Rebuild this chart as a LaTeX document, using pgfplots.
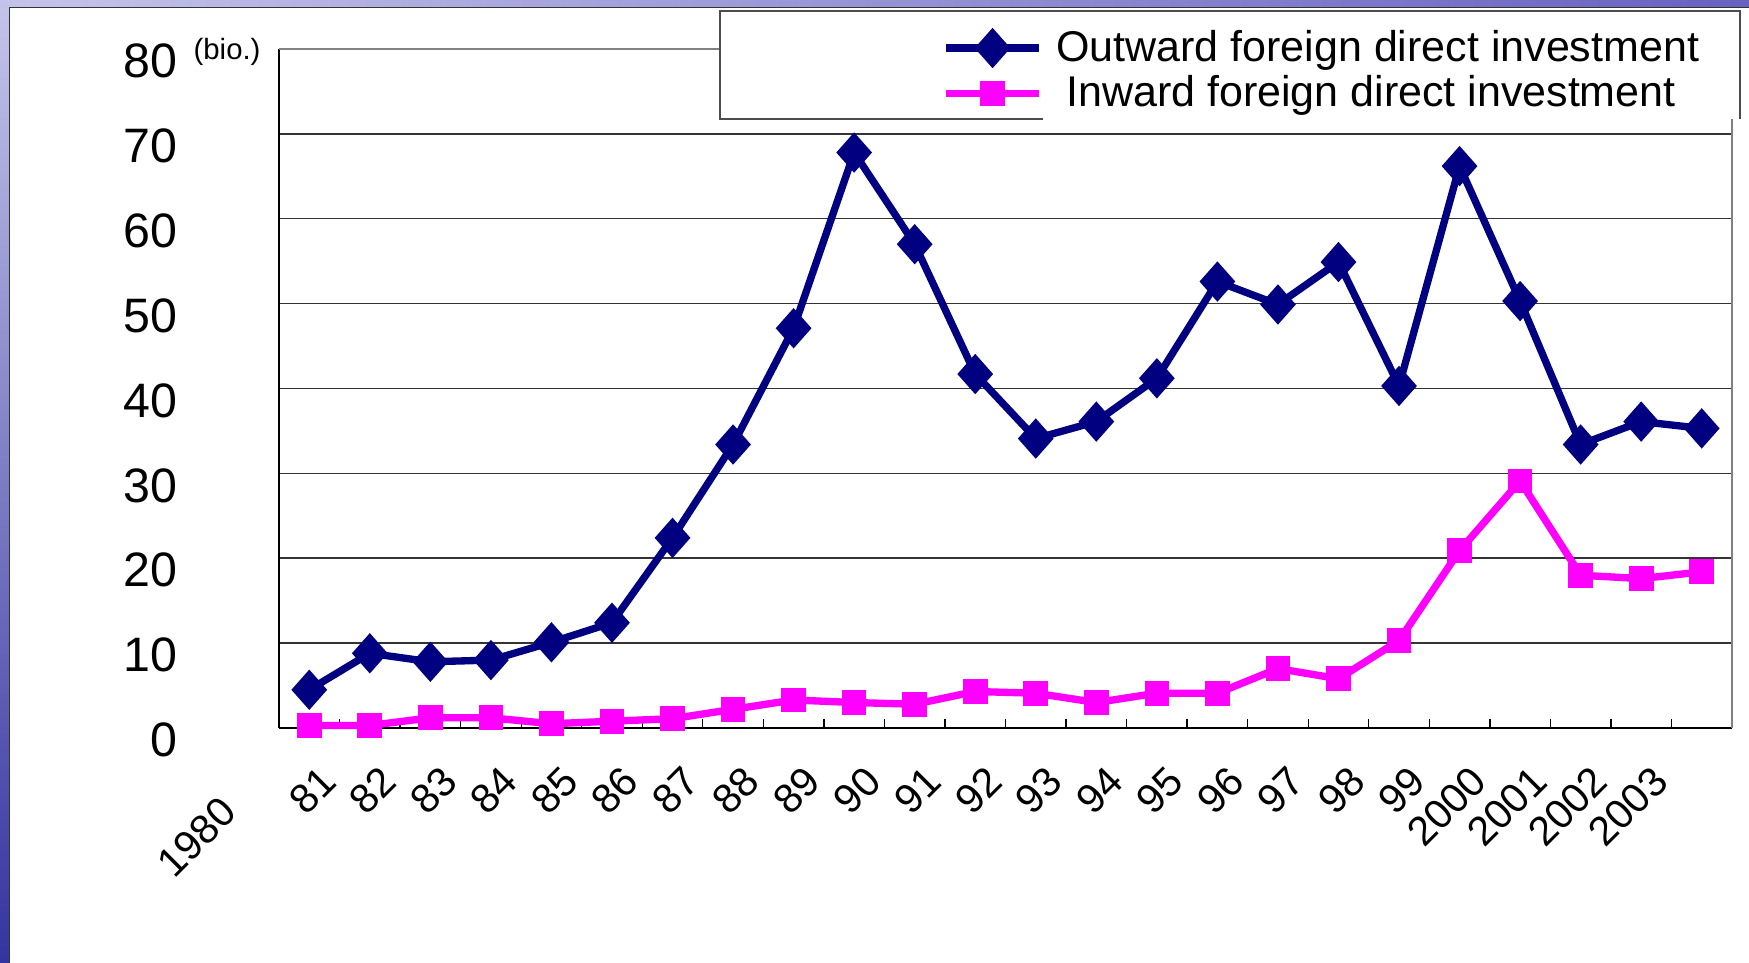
\documentclass[border=0pt]{standalone}
\usepackage{pgfplots}
\usepackage{pgfplotstable}
\pgfplotsset{compat=1.18}
\usepackage{fontspec}
\setmainfont{Liberation Sans}

\definecolor{outw}{HTML}{000080}
\definecolor{inw}{HTML}{FF00FF}
\definecolor{slidetopl}{RGB}{196,196,234}
\definecolor{slidetopr}{RGB}{104,98,192}
\definecolor{slidebot}{RGB}{52,52,160}

% year index (0 = 1980), outward FDI, inward FDI (bio.)
\pgfplotstableread{
x out  in
0  4.5  0.3
1  8.8  0.3
2  7.8  1.2
3  8.0  1.2
4  10.1 0.5
5  12.4 0.8
6  22.4 1.1
7  33.4 2.2
8  47.1 3.3
9  67.8 3.0
10 57.0 2.8
11 41.7 4.3
12 34.1 4.1
13 36.1 3.0
14 41.2 4.1
15 52.6 4.1
16 49.9 7.0
17 54.9 5.8
18 40.3 10.3
19 66.2 20.9
20 50.3 29.1
21 33.4 18.0
22 36.1 17.6
23 35.3 18.4
}\fdidata

\begin{document}
\begin{tikzpicture}
\path[use as bounding box] (0,0) rectangle (524.7pt,288.9pt);
% slide backdrop
\shade[left color=slidetopl, right color=slidetopr] (0,0) rectangle (524.7pt,288.9pt);
\shade[top color=slidetopl, bottom color=slidebot] (0,0) rectangle (2.7pt,288.9pt);
\fill[white] (2.7pt,0) rectangle (524.7pt,286.8pt);
\draw[black!80, line width=0.4pt] (2.8pt,0) -- (2.8pt,286.7pt) -- (524.7pt,286.7pt);

\node[anchor=west, inner sep=0pt, font=\fontsize{8.8}{10}\selectfont] at (57.9pt,273.3pt) {(bio.)};

\begin{axis}[
  at={(83.7pt,70.5pt)}, anchor=south west,
  width=435.9pt, height=203.7pt, scale only axis,
  xmin=-0.5, xmax=23.5, ymin=0, ymax=80,
  clip=false,
  axis x line*=bottom, axis y line*=left,
  axis line style={black, line width=0.6pt},
  ytick={0,10,...,80},
  ymajorgrids,
  major grid style={black!80, line width=0.45pt},
  xtick={0,...,23},
  xticklabels={\raisebox{3.8pt}{1980}\hspace*{14.7pt},81,82,83,84,85,86,87,88,89,90,91,92,93,94,95,96,97,98,99,2000,2001,2002,2003},
  minor xtick={-0.5,0.5,...,23.5},
  major tick length=0pt,
  minor tick length=2.7pt,
  tick align=inside,
  minor tick style={black, line width=0.4pt},
  yticklabel style={font=\fontsize{14.5}{16}\selectfont, inner sep=0pt, anchor=east,
    xshift=-30.3pt, yshift=-3.6pt, /pgf/number format/assume math mode=true},
  xticklabel style={font=\fontsize{12.3}{14}\selectfont, inner sep=0pt,
    xshift=-12.3pt, yshift=-13.8pt, rotate=45, anchor=east},
  legend style={at={(0.456,1.029)}, anchor=north west, draw=none, fill=none,
    inner sep=0pt, row sep=2.7pt, nodes={inner xsep=4pt, inner ysep=0pt},
    font=\fontsize{12.9}{14}\selectfont},
  legend cell align=left,
  legend image code/.code={%
    \draw[mark repeat=2, mark phase=2, #1] plot coordinates {(0pt,0pt) (14pt,0pt) (28pt,0pt)};},
]
% top and right frame in grey
\draw[black!50, line width=0.7pt] (rel axis cs:0,1) -- (rel axis cs:1,1) -- (rel axis cs:1,0);
% legend frame
\fill[white] (rel axis cs:0.3035,0.897) rectangle (rel axis cs:1.0055,1.056);
\draw[black!70, line width=0.4pt] (rel axis cs:0.526,0.897) -| (rel axis cs:0.3035,1.056) -| (rel axis cs:1.0055,0.897);

\addplot[outw, line width=2.2pt, mark=diamond*, mark size=4.4pt,
  mark options={xscale=1.18, solid}] table[x=x, y=out] {\fdidata};
\addlegendentry{Outward foreign direct investment}
\addplot[inw, line width=2.2pt, mark=square*, mark size=2.6pt,
  mark options={solid}] table[x=x, y=in] {\fdidata};
\addlegendentry{\hspace*{3pt}Inward foreign direct investment}
\end{axis}
\end{tikzpicture}
\end{document}
